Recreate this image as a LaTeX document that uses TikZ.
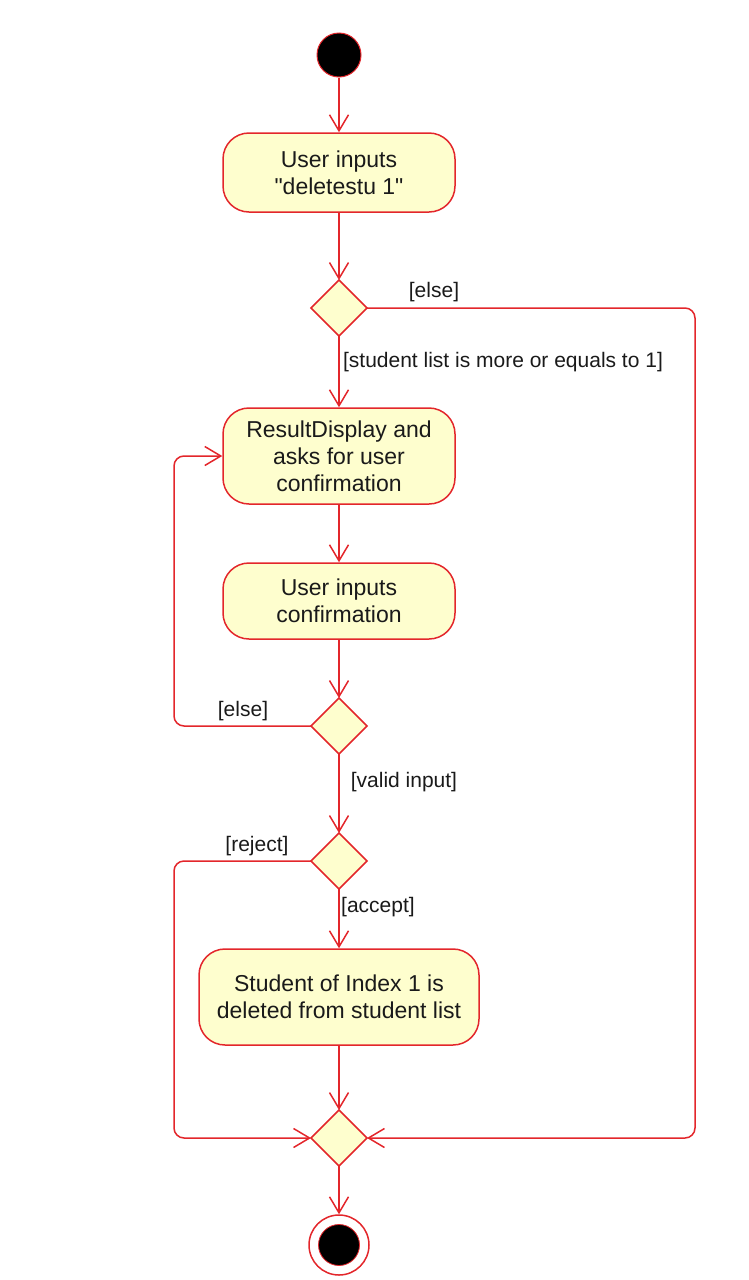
\documentclass[tikz,border=0pt]{standalone}
\usepackage{fontspec}
\setmainfont{Liberation Sans}[Ligatures=TeXOff]
\usetikzlibrary{shapes.geometric,arrows.meta}
\definecolor{umlred}{HTML}{E3262B}
\definecolor{umlfill}{HTML}{FEFECE}
\definecolor{txt}{HTML}{1A1A1A}
\tikzset{
  act/.style={draw=umlred, fill=umlfill, line width=1.5pt, rounded corners=26pt,
    minimum width=232pt, align=center, inner sep=0pt, text=txt,
    font=\fontsize{23}{27}\selectfont},
  dec/.style={draw=umlred, fill=umlfill, line width=1.5pt, diamond, aspect=1,
    minimum width=56pt, minimum height=56pt, inner sep=0pt, outer sep=0pt},
  guard/.style={text=txt, font=\fontsize{21}{25}\selectfont, inner sep=0pt},
  flow/.style={draw=umlred, line width=1.5pt, -{Straight Barb[length=16pt,width=19pt]}, rounded corners=10pt},
}
\begin{document}
\begin{tikzpicture}[x=1pt,y=-1pt]
\useasboundingbox (0,0) rectangle (749,1280);
\node[circle, fill=black, draw=umlred, line width=1pt, minimum size=44pt, inner sep=0pt] (start) at (339,55) {};
\node[act, minimum height=79pt] (b1) at (339,172.5) {User inputs\\"deletestu 1"};
\node[dec] (d1) at (339,308) {};
\node[act, minimum height=96pt] (b2) at (339,456) {ResultDisplay and\\asks for user\\confirmation};
\node[act, minimum height=76pt] (b3) at (339,601) {User inputs\\confirmation};
\node[dec] (d2) at (339,726) {};
\node[dec] (d3) at (339,861) {};
\node[act, minimum width=280pt, minimum height=96pt] (b4) at (339,997) {Student of Index 1 is\\deleted from student list};
\node[dec] (d4) at (339,1138) {};
\node[circle, draw=umlred, fill=white, line width=1.5pt, minimum size=60pt, inner sep=0pt] (endo) at (339,1245) {};
\node[circle, fill=black, draw=umlred, line width=0.8pt, minimum size=41pt, inner sep=0pt] (endi) at (endo.center) {};

\node[guard] (g1) at (434,292) {[else]};
\node[guard] (g2) at (503,362) {[student list is more or equals to 1]};
\node[guard] (g3) at (243,711) {[else]};
\node[guard] (g4) at (404,782) {[valid input]};
\node[guard] (g5) at (257,846) {[reject]};
\node[guard] (g6) at (378,907) {[accept]};

\draw[flow] (start) -- (b1);
\draw[flow] (b1) -- (d1);
\draw[flow] (d1) -- (b2);
\draw[flow] (b2) -- (b3);
\draw[flow] (b3) -- (d2);
\draw[flow] (d2.west) -- (174,726) -- (174,456) -- (b2.west);
\draw[flow] (d2) -- (d3);
\draw[flow] (d3) -- (b4);
\draw[flow] (d3.west) -- (174,861) -- (174,1138) -- (d4.west);
\draw[flow] (d1.east) -- (695,308) -- (695,1138) -- (d4.east);
\draw[flow] (b4) -- (d4);
\draw[flow] (d4) -- (endo);
\end{tikzpicture}
\end{document}
